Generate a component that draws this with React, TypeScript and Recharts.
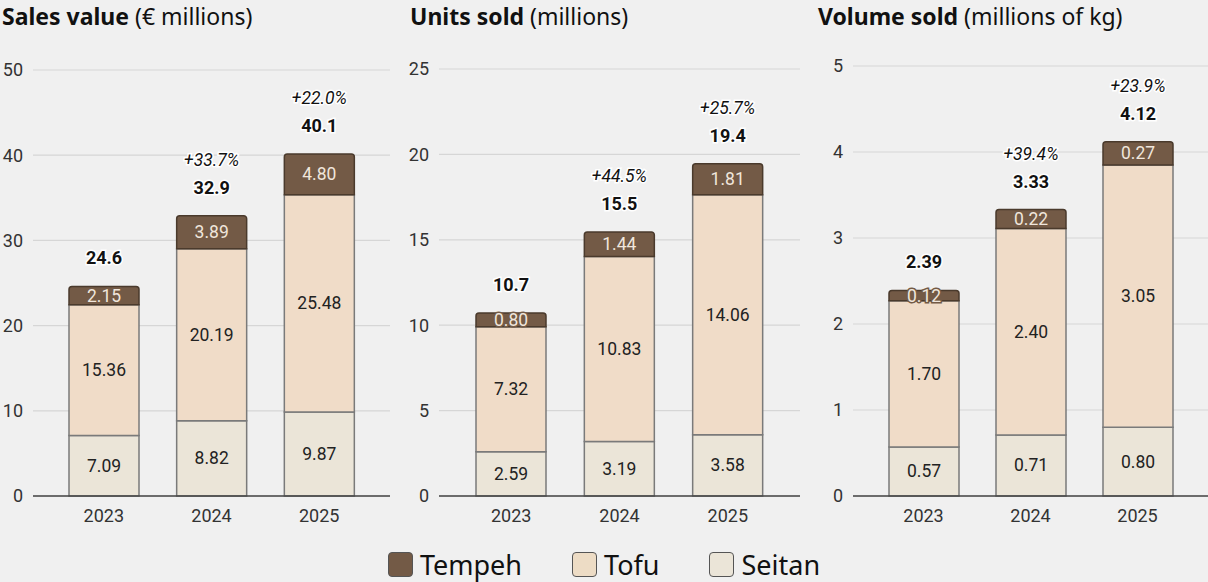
import React from 'react';
import { BarChart, Bar, XAxis, YAxis, CartesianGrid, LabelList } from 'recharts';

const years = ['2023', '2024', '2025'];

const salesSeitan = [7.09, 8.82, 9.87];
const salesTofu = [15.36, 20.19, 25.48];
const salesTempeh = [2.15, 3.89, 4.8];
const salesTotals = ['24.6', '32.9', '40.1'];
const salesGrowth = ['', '+33.7%', '+22.0%'];
const salesTicks = [0, 10, 20, 30, 40, 50];

const unitsSeitan = [2.59, 3.19, 3.58];
const unitsTofu = [7.32, 10.83, 14.06];
const unitsTempeh = [0.8, 1.44, 1.81];
const unitsTotals = ['10.7', '15.5', '19.4'];
const unitsGrowth = ['', '+44.5%', '+25.7%'];
const unitsTicks = [0, 5, 10, 15, 20, 25];

const volumeSeitan = [0.57, 0.71, 0.8];
const volumeTofu = [1.7, 2.4, 3.05];
const volumeTempeh = [0.12, 0.22, 0.27];
const volumeTotals = ['2.39', '3.33', '4.12'];
const volumeGrowth = ['', '+39.4%', '+23.9%'];
const volumeTicks = [0, 1, 2, 3, 4, 5];

const COLORS = { tempeh: '#735a46', tofu: '#f0dcc8', seitan: '#ebe5d8' };
const OUTLINE = '#7a7a7a';
const NUM_FONT = 'Roboto, sans-serif';
const TITLE_FONT = '"Noto Sans", sans-serif';

const buildRows = (seitan: number[], tofu: number[], tempeh: number[]) =>
    years.map((year, i) => ({ year, seitan: seitan[i], tofu: tofu[i], tempeh: tempeh[i] }));

interface PanelProps {
    title: string;
    unit: string;
    left: number;
    titleLeft: number;
    width: number;
    yWidth: number;
    marginRight: number;
    marginTop: number;
    seitan: number[];
    tofu: number[];
    tempeh: number[];
    totals: string[];
    growth: string[];
    ticks: number[];
    padX: number;
}

const Panel: React.FC<PanelProps> = (p) => {
    const data = buildRows(p.seitan, p.tofu, p.tempeh);
    const max = p.ticks[p.ticks.length - 1];

    const segLabel = (fill: string, color: string) => (props: any) => {
        const { x, y, width, height, value } = props;
        return (
            <text
                x={x + width / 2}
                y={y + height / 2}
                textAnchor="middle"
                dominantBaseline="central"
                fontFamily={NUM_FONT}
                fontSize={17.5}
                fill={color}
                stroke={fill}
                strokeWidth={3}
                paintOrder="stroke"
            >
                {Number(value).toFixed(2)}
            </text>
        );
    };

    const topLabel = (props: any) => {
        const { x, y, width, index } = props;
        const cx = x + width / 2;
        return (
            <g>
                <text x={cx} y={y - 22} textAnchor="middle" fontFamily={NUM_FONT} fontSize={18} fontWeight="bold"
                    fill="#111" stroke="#fff" strokeWidth={3} paintOrder="stroke">
                    {p.totals[index]}
                </text>
                {p.growth[index] && (
                    <text x={cx} y={y - 50} textAnchor="middle" fontFamily={NUM_FONT} fontSize={17.5} fontStyle="italic"
                        fill="#111" stroke="#fff" strokeWidth={3} paintOrder="stroke">
                        {p.growth[index]}
                    </text>
                )}
            </g>
        );
    };

    return (
        <div style={{ position: 'absolute', left: p.left, top: 0, width: p.width, height: 530 }}>
            <div style={{ position: 'absolute', left: p.titleLeft, top: 0, fontFamily: TITLE_FONT, fontSize: 23, color: '#111', whiteSpace: 'nowrap' }}>
                <b>{p.title}</b> {p.unit}
            </div>
            <BarChart width={p.width} height={530} data={data}
                margin={{ top: p.marginTop, right: p.marginRight, left: 0, bottom: 0 }}>
                <CartesianGrid vertical={false} stroke="#d6d6d6" strokeWidth={1.2} />
                <XAxis
                    dataKey="year"
                    height={34}
                    padding={{ left: p.padX, right: p.padX }}
                    tickSize={0}
                    tickMargin={13}
                    tick={{ fontSize: 18, fill: '#333', fontFamily: NUM_FONT }}
                    axisLine={{ stroke: '#444', strokeWidth: 1.5 }}
                    tickLine={false}
                />
                <YAxis
                    width={p.yWidth}
                    domain={[0, max]}
                    ticks={p.ticks}
                    tickSize={0}
                    tickMargin={10}
                    tick={{ fontSize: 18, fill: '#333', fontFamily: NUM_FONT }}
                    axisLine={false}
                    tickLine={false}
                />
                <Bar dataKey="seitan" stackId="a" fill={COLORS.seitan} stroke={OUTLINE} strokeWidth={1.5} barSize={70} isAnimationActive={false}>
                    <LabelList dataKey="seitan" content={segLabel(COLORS.seitan, '#222')} />
                </Bar>
                <Bar dataKey="tofu" stackId="a" fill={COLORS.tofu} stroke={OUTLINE} strokeWidth={1.5} barSize={70} isAnimationActive={false}>
                    <LabelList dataKey="tofu" content={segLabel(COLORS.tofu, '#222')} />
                </Bar>
                <Bar dataKey="tempeh" stackId="a" fill={COLORS.tempeh} stroke="#4a3a2c" strokeWidth={1.5} barSize={70}
                    radius={[3, 3, 0, 0]} isAnimationActive={false}>
                    <LabelList dataKey="tempeh" content={segLabel(COLORS.tempeh, '#f0e6dc')} />
                    <LabelList dataKey="tempeh" content={topLabel} />
                </Bar>
            </BarChart>
        </div>
    );
};

const legendItems = [
    { name: 'Tempeh', color: COLORS.tempeh },
    { name: 'Tofu', color: '#eddcc5' },
    { name: 'Seitan', color: COLORS.seitan },
];

export default function App() {
    return (
        <div style={{ position: 'absolute', left: 0, top: 0, width: 1208, height: 582, background: '#f0f0f0', overflow: 'hidden' }}>
            <Panel title="Sales value" unit="(€ millions)" left={0} titleLeft={2} width={395} yWidth={33} marginRight={5} marginTop={70}
                seitan={salesSeitan} tofu={salesTofu} tempeh={salesTempeh} totals={salesTotals} growth={salesGrowth}
                ticks={salesTicks} padX={17} />
            <Panel title="Units sold" unit="(millions)" left={400} titleLeft={10} width={400} yWidth={39} marginRight={0} marginTop={69}
                seitan={unitsSeitan} tofu={unitsTofu} tempeh={unitsTempeh} totals={unitsTotals} growth={unitsGrowth}
                ticks={unitsTicks} padX={18} />
            <Panel title="Volume sold" unit="(millions of kg)" left={810} titleLeft={8} width={398} yWidth={43} marginRight={0} marginTop={66}
                seitan={volumeSeitan} tofu={volumeTofu} tempeh={volumeTempeh} totals={volumeTotals} growth={volumeGrowth}
                ticks={volumeTicks} padX={17} />
            <div style={{ position: 'absolute', left: 0, top: 546, width: 1208, display: 'flex', justifyContent: 'center', gap: 50, fontFamily: TITLE_FONT, fontSize: 27, color: '#111' }}>
                {legendItems.map((item) => (
                    <div key={item.name} style={{ display: 'flex', alignItems: 'center', gap: 7 }}>
                        <span style={{ width: 23, height: 23, background: item.color, border: '1.5px solid #555', borderRadius: 4, display: 'inline-block' }} />
                        <span>{item.name}</span>
                    </div>
                ))}
            </div>
        </div>
    );
}
